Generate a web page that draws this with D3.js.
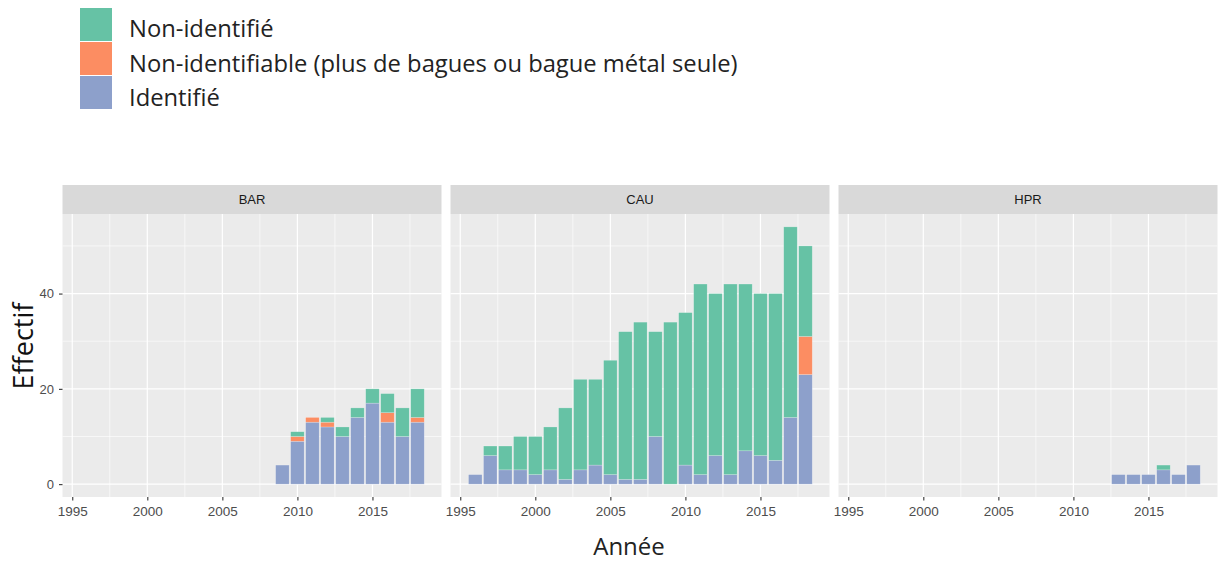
<!DOCTYPE html>
<html>
<head>
<meta charset="utf-8">
<script src="https://cdn.jsdelivr.net/npm/d3@7"></script>
<style>
  body { margin: 0; background: #fff; }
  svg { display: block; }
</style>
</head>
<body>
<script>
// categories (stack order bottom -> top)
var categories = ["Identifié", "Non-identifiable (plus de bagues ou bague métal seule)", "Non-identifié"];
var keys = ["ident", "nonIdentifiable", "nonIdent"];
var colors = {ident: "#8DA0CB", nonIdentifiable: "#FC8D62", nonIdent: "#66C2A5"};
var facets = ["BAR", "CAU", "HPR"];

// BAR
var barYears = [2009, 2010, 2011, 2012, 2013, 2014, 2015, 2016, 2017, 2018];
var barIdent = [4, 9, 13, 12, 10, 14, 17, 13, 10, 13];
var barNonIdentifiable = [0, 1, 1, 1, 0, 0, 0, 2, 0, 1];
var barNonIdent = [0, 1, 0, 1, 2, 2, 3, 4, 6, 6];

// CAU
var cauYears = [1996, 1997, 1998, 1999, 2000, 2001, 2002, 2003, 2004, 2005, 2006, 2007,
  2008, 2009, 2010, 2011, 2012, 2013, 2014, 2015, 2016, 2017, 2018];
var cauIdent = [2, 6, 3, 3, 2, 3, 1, 3, 4, 2, 1, 1, 10, 0, 4, 2, 6, 2, 7, 6, 5, 14, 23];
var cauNonIdentifiable = [0, 0, 0, 0, 0, 0, 0, 0, 0, 0, 0, 0, 0, 0, 0, 0, 0, 0, 0, 0, 0, 0, 8];
var cauNonIdent = [0, 2, 5, 7, 8, 9, 15, 19, 18, 24, 31, 33, 22, 34, 32, 40, 34, 40, 35, 34, 35, 40, 19];

// HPR
var hprYears = [2013, 2014, 2015, 2016, 2017, 2018];
var hprIdent = [2, 2, 2, 3, 2, 4];
var hprNonIdentifiable = [0, 0, 0, 0, 0, 0];
var hprNonIdent = [0, 0, 0, 1, 0, 0];

var xTicks = [1995, 2000, 2005, 2010, 2015];
var yTicks = [0, 20, 40];

function rows(years, a, b, c) {
  return years.map(function(y, i) {
    return {year: y, ident: a[i], nonIdentifiable: b[i], nonIdent: c[i]};
  });
}
var facetData = {
  BAR: rows(barYears, barIdent, barNonIdentifiable, barNonIdent),
  CAU: rows(cauYears, cauIdent, cauNonIdentifiable, cauNonIdent),
  HPR: rows(hprYears, hprIdent, hprNonIdentifiable, hprNonIdent)
};

var W = 1218, H = 564;
var svg = d3.select("body").append("svg").attr("width", W).attr("height", H);

var panelW = 379, gap = 9, left0 = 62.5;
var stripTop = 185, stripH = 29;
var panelTop = stripTop + stripH, panelBottom = 497;
var tickFont = "Liberation Sans, Arial, sans-serif";

var x = d3.scaleLinear().domain([1994.35, 2019.6]).range([0, panelW]);
var y = d3.scaleLinear().domain([-2.7, 56.7]).range([panelBottom - panelTop, 0]);

var stack = d3.stack().keys(keys);

facets.forEach(function(f, i) {
  var px = left0 + i * (panelW + gap);
  var g = svg.append("g").attr("transform", "translate(" + px + "," + panelTop + ")");
  var ph = panelBottom - panelTop;

  g.append("rect").attr("width", panelW).attr("height", ph).attr("fill", "#EBEBEB");

  // minor grid
  var xMinor = xTicks.map(function(t) { return t + 2.5; }).filter(function(t) { return t < 2019.6; });
  g.selectAll(".xmin").data(xMinor).enter().append("line")
    .attr("x1", d => x(d)).attr("x2", d => x(d)).attr("y1", 0).attr("y2", ph)
    .attr("stroke", "#fff").attr("stroke-width", 0.6);
  g.selectAll(".ymin").data([10, 30, 50]).enter().append("line")
    .attr("x1", 0).attr("x2", panelW).attr("y1", d => y(d)).attr("y2", d => y(d))
    .attr("stroke", "#fff").attr("stroke-width", 0.6);
  // major grid
  g.selectAll(".xmaj").data(xTicks).enter().append("line")
    .attr("x1", d => x(d)).attr("x2", d => x(d)).attr("y1", 0).attr("y2", ph)
    .attr("stroke", "#fff").attr("stroke-width", 1.2);
  g.selectAll(".ymaj").data(yTicks).enter().append("line")
    .attr("x1", 0).attr("x2", panelW).attr("y1", d => y(d)).attr("y2", d => y(d))
    .attr("stroke", "#fff").attr("stroke-width", 1.2);

  // bars
  var series = stack(facetData[f]);
  g.selectAll(".layer").data(series).enter().append("g")
    .attr("fill", d => colors[d.key])
    .selectAll("rect").data(d => d.filter(function(p) { return p[1] > p[0]; })).enter().append("rect")
      .attr("x", d => x(d.data.year - 0.45))
      .attr("width", x(0.9) - x(0))
      .attr("y", d => y(d[1]))
      .attr("height", d => y(d[0]) - y(d[1]))
      .attr("stroke", "#ffffff").attr("stroke-opacity", 0.35).attr("stroke-width", 0.6);

  // strip
  svg.append("rect").attr("x", px).attr("y", stripTop).attr("width", panelW).attr("height", stripH)
    .attr("fill", "#D9D9D9");
  svg.append("text").attr("x", px + panelW / 2).attr("y", stripTop + stripH / 2 + 4.5)
    .attr("text-anchor", "middle").attr("font-family", tickFont)
    .attr("font-size", 13).attr("fill", "#1A1A1A").text(f);

  // x axis
  var xa = d3.axisBottom(x).tickValues(xTicks).tickFormat(d3.format("d")).tickSize(3.5).tickPadding(6);
  var xg = svg.append("g").attr("transform", "translate(" + px + "," + panelBottom + ")").call(xa);
  xg.select(".domain").remove();
  xg.selectAll("line").attr("stroke", "#333").attr("stroke-width", 1.1);
  xg.selectAll("text").attr("fill", "#4D4D4D").attr("font-size", 13.5).attr("font-family", tickFont);

  if (i === 0) {
    var ya = d3.axisLeft(y).tickValues(yTicks).tickSize(3.5).tickPadding(5);
    var yg = svg.append("g").attr("transform", "translate(" + px + "," + panelTop + ")").call(ya);
    yg.select(".domain").remove();
    yg.selectAll("line").attr("stroke", "#333").attr("stroke-width", 1.1);
    yg.selectAll("text").attr("fill", "#4D4D4D").attr("font-size", 13).attr("font-family", tickFont);
  }
});

// axis titles
svg.append("text").attr("x", 629).attr("y", 555).attr("text-anchor", "middle")
  .attr("font-family", "Open Sans, Noto Sans, sans-serif").attr("font-size", 24).attr("fill", "#222")
  .text("Année");
svg.append("text").attr("transform", "translate(33,346) rotate(-90)").attr("text-anchor", "middle")
  .attr("font-family", "Open Sans, Noto Sans, sans-serif").attr("font-size", 27).attr("fill", "#111")
  .text("Effectif");

// legend (top-down order as in reference)
var legendKeys = ["nonIdent", "nonIdentifiable", "ident"];
var legendLabels = ["Non-identifié", "Non-identifiable (plus de bagues ou bague métal seule)", "Identifié"];
var lg = svg.append("g");
legendKeys.forEach(function(k, i) {
  lg.append("rect").attr("x", 80).attr("y", 8 + i * 34).attr("width", 32).attr("height", 33)
    .attr("fill", colors[k]);
  var t = lg.append("text").attr("x", 129).attr("y", 37 + i * 34.5)
    .attr("font-family", "Open Sans, Noto Sans, sans-serif").attr("font-size", 21).attr("fill", "#222")
    .text(legendLabels[i]);
  if (i === 1) {
    var w = t.node().getComputedTextLength();
    if (w > 0) t.attr("font-size", 21 * 609 / w);
  }
});
// keep other legend labels at same size as the long one
var fs = lg.selectAll("text").filter(function(d, i) { return i === 1; }).attr("font-size");
lg.selectAll("text").attr("font-size", fs);
</script>
</body>
</html>
